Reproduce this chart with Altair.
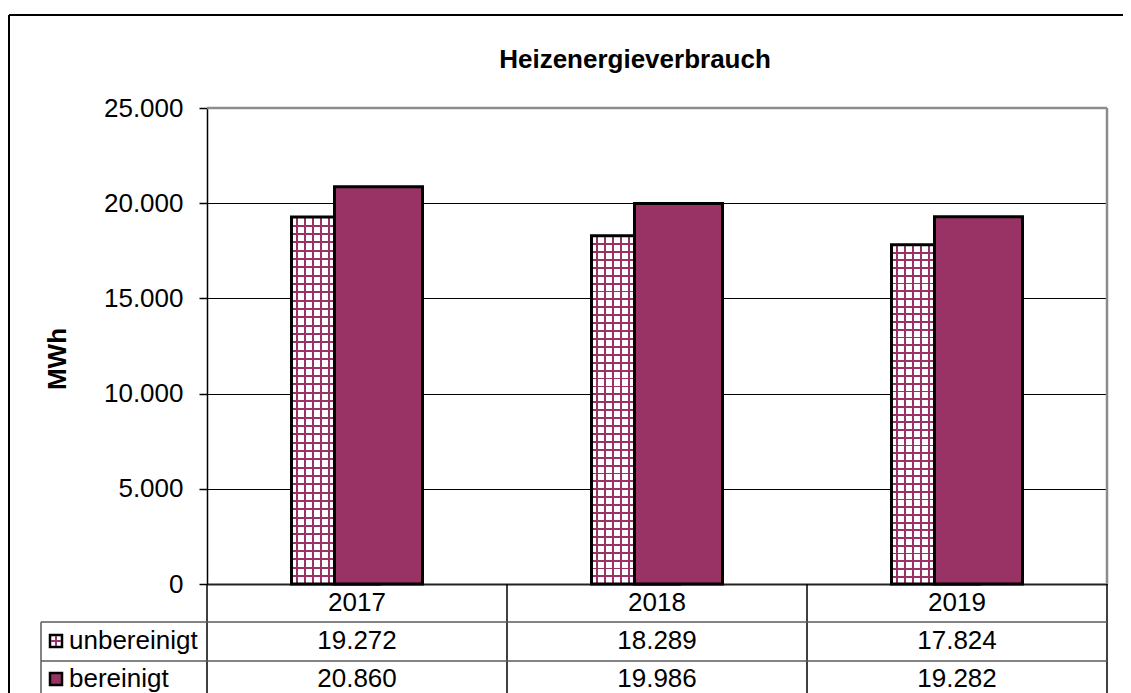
import altair as alt
import pandas as pd

# ---- data ----
years = ["2017", "2018", "2019"]
series = ["unbereinigt", "bereinigt"]
unbereinigt = [19272, 18289, 17824]
bereinigt = [20860, 19986, 19282]
y_ticks = [0, 5000, 10000, 15000, 20000, 25000]
title_text = "Heizenergieverbrauch"
y_title = "MWh"
year_row = "Jahr"

FONT = "Liberation Sans, Arial, sans-serif"
PLUM = "#993366"
W, H = 900, 476
FS = 26


def de(v):
    return f"{v:,}".replace(",", ".")


bars_df = pd.DataFrame({"year": years, "unbereinigt": unbereinigt, "bereinigt": bereinigt})

rows = []
for y in years:
    rows.append({"row": year_row, "year": y, "label": y})
for name, vals in zip(series, [unbereinigt, bereinigt]):
    for y, v in zip(years, vals):
        rows.append({"row": name, "year": y, "label": de(v)})
table_df = pd.DataFrame(rows)
series_df = pd.DataFrame({"row": series})


def stripes(n, a, b, vertical_lines):
    clear = "rgba(153,51,102,0)"
    stops = [{"offset": 0, "color": clear}]
    for k in range(n + 1):
        s = (k + a) / n
        e = (k + b) / n
        if s < 0 or s >= 1:
            continue
        e = min(e, 1)
        stops += [
            {"offset": s, "color": clear},
            {"offset": s, "color": PLUM},
            {"offset": e, "color": PLUM},
            {"offset": e, "color": clear},
        ]
    stops.append({"offset": 1, "color": clear})
    g = {"gradient": "linear", "stops": stops, "x1": 0, "y1": 0}
    if vertical_lines:
        g.update({"x2": 1, "y2": 0})
    else:
        g.update({"x2": 0, "y2": 1})
    return g


vgrad = stripes(11, 0.6, 0.85, True)
hgrad = stripes(44, -0.08, 0.16, False)

xaxis = alt.Axis(labels=False, ticks=False, title=None, grid=False,
                 domainColor="#222222", domainWidth=2)
xscale = alt.Scale(domain=years, paddingInner=0, paddingOuter=0)


def xenc(**kw):
    return alt.X("year:N", sort=years, scale=xscale, axis=xaxis, **kw)


yscale = alt.Scale(domain=[0, 25000], nice=False)
yaxis = alt.Axis(values=y_ticks, title=None,
                 labelExpr="replace(format(datum.value, ','), ',', '.')",
                 tickSize=8, tickColor="black", tickWidth=1.5,
                 domainColor="black", domainWidth=1.5,
                 labelFont=FONT, labelFontSize=FS, labelColor="black", labelPadding=16,
                 grid=True, gridColor="black", gridWidth=1)

bb = alt.Chart(bars_df)
b_white = bb.mark_bar(width=88, xOffset=-21.5, fill="white").encode(
    x=xenc(), y=alt.Y("unbereinigt:Q", scale=yscale, axis=yaxis))
b_v = bb.mark_bar(width=88, xOffset=-21.5, fill=vgrad).encode(
    x=xenc(), y=alt.Y("unbereinigt:Q", scale=yscale, axis=yaxis))
b_h = bb.mark_bar(width=88, xOffset=-21.5, fill=hgrad, stroke="black", strokeWidth=3).encode(
    x=xenc(), y=alt.Y("unbereinigt:Q", scale=yscale, axis=yaxis))
b_b = bb.mark_bar(width=88, xOffset=21.5, fill=PLUM, stroke="black", strokeWidth=3).encode(
    x=xenc(), y=alt.Y("bereinigt:Q", scale=yscale, axis=yaxis))

one = pd.DataFrame({"k": [0]})
border_top = alt.Chart(one).mark_rule(color="#8c8c8c", strokeWidth=2.5).encode(
    x=alt.value(0), x2=alt.value(W), y=alt.value(0))
border_right = alt.Chart(one).mark_rule(color="#8c8c8c", strokeWidth=2.5).encode(
    x=alt.value(W), y=alt.value(0), y2=alt.value(H))

title = alt.Chart(pd.DataFrame({"t": [title_text]})).mark_text(
    font=FONT, fontSize=FS, fontWeight="bold", color="black", align="center", baseline="alphabetic"
).encode(text="t:N", x=alt.value(428), y=alt.value(-40))
ytitle = alt.Chart(pd.DataFrame({"t": [y_title]})).mark_text(
    font=FONT, fontSize=FS, fontWeight="bold", color="black", align="center",
    baseline="alphabetic", angle=270
).encode(text="t:N", x=alt.value(-141), y=alt.value(251))

bar_layer = alt.layer(b_white, b_v, b_h, b_b, border_top, border_right, title, ytitle)

# ---- table ----
rowscale = alt.Scale(type="point", domain=[year_row] + series, range=[495, 571], padding=0)

cells = alt.Chart(table_df).mark_text(
    font=FONT, fontSize=FS, color="black", align="center", baseline="middle"
).encode(x=xenc(), y=alt.Y("row:N", scale=rowscale, axis=None), text="label:N")

row_labels = alt.Chart(series_df).mark_text(
    font=FONT, fontSize=FS, color="black", align="left", baseline="middle"
).encode(x=alt.value(-138), y=alt.Y("row:N", scale=rowscale, axis=None), text="row:N")

symbols = alt.Chart(series_df).mark_square(size=144, filled=True, stroke="black", strokeWidth=2.5, opacity=1).encode(
    x=alt.value(-151), y=alt.Y("row:N", scale=rowscale, axis=None),
    fill=alt.Fill("row:N", scale=alt.Scale(domain=series, range=["white", PLUM]), legend=None))
cross = alt.Chart(series_df).transform_filter(alt.datum.row == "unbereinigt").mark_point(
    shape="M-1,0L1,0M0,-1L0,1", size=100, stroke=PLUM, strokeWidth=2, filled=False, opacity=1
).encode(x=alt.value(-151), y=alt.Y("row:N", scale=rowscale, axis=None))

col_lines = alt.Chart(bars_df).mark_rule(color="black", strokeWidth=1.5).encode(
    x=xenc(bandPosition=0), y=alt.value(H), y2=alt.value(H + 140))
right_line = alt.Chart(one).mark_rule(color="black", strokeWidth=1.5).encode(
    x=alt.value(W), y=alt.value(H), y2=alt.value(H + 140))
hl1 = alt.Chart(one).mark_rule(color="#5a5a5a", strokeWidth=1.5).encode(
    x=alt.value(-166), x2=alt.value(W), y=alt.value(514))
hl2 = alt.Chart(one).mark_rule(color="#5a5a5a", strokeWidth=1.5).encode(
    x=alt.value(-166), x2=alt.value(W), y=alt.value(553))
hl3 = alt.Chart(one).mark_rule(color="#5a5a5a", strokeWidth=1.5).encode(
    x=alt.value(-166), x2=alt.value(W), y=alt.value(591))
left_tbl = alt.Chart(one).mark_rule(color="#5a5a5a", strokeWidth=1.5).encode(
    x=alt.value(-166), y=alt.value(514), y2=alt.value(H + 140))

frame_left = alt.Chart(one).mark_rule(color="black", strokeWidth=2).encode(
    x=alt.value(-198), y=alt.value(-93), y2=alt.value(H + 140))
frame_top = alt.Chart(one).mark_rule(color="black", strokeWidth=2).encode(
    x=alt.value(-198), x2=alt.value(W + 40), y=alt.value(-93))

table_layer = alt.layer(cells, row_labels, symbols, cross, col_lines, right_line,
                        hl1, hl2, hl3, left_tbl, frame_left, frame_top)

chart = alt.layer(bar_layer, table_layer).resolve_scale(y="independent").properties(
    width=W, height=H,
    autosize=alt.AutoSizeParams(type="none"),
    padding={"left": 199, "top": 100, "right": 16, "bottom": 110},
    background="white",
).configure_view(stroke=None)

chart.save("out.html", embed_options={"renderer": "svg", "actions": False})
